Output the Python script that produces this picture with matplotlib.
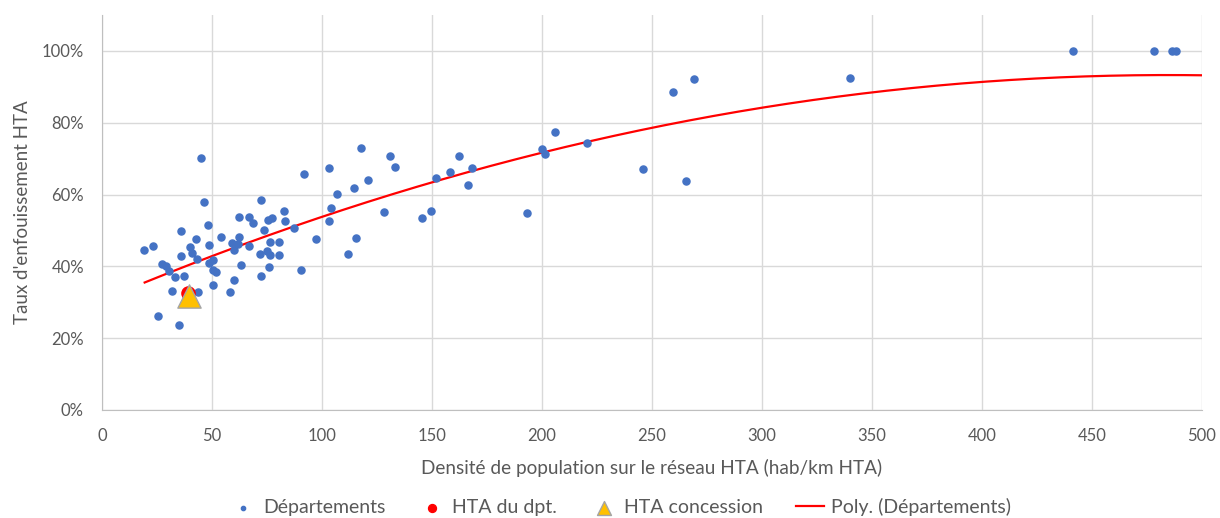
import numpy as np
import matplotlib
matplotlib.use("Agg")
import matplotlib.pyplot as plt
from matplotlib.ticker import PercentFormatter

# densite de population sur le reseau HTA (hab/km HTA) par departement
densite = [19.3, 23.0, 25.4, 27.4, 29.0, 30.5, 31.9, 33.1, 34.9, 35.7,
           36.1, 37.3, 39.8, 40.8, 42.8, 43.4, 43.7, 44.8, 46.4, 48.3,
           48.6, 48.6, 50.5, 50.6, 50.5, 52.0, 54.2, 58.4, 58.9, 60.2,
           60.1, 62.1, 62.1, 61.8, 63.4, 66.9, 66.9, 68.5, 72.3, 71.7,
           72.2, 73.7, 75.1, 75.4, 75.9, 76.6, 76.6, 77.5, 80.6, 80.6,
           82.6, 83.0, 87.3, 90.3, 92.0, 97.3, 103.4, 103.4, 104.0, 107.0,
           111.9, 114.8, 115.5, 117.8, 120.8, 128.0, 131.0, 133.0, 145.4, 149.7,
           152.0, 158.2, 162.3, 166.5, 168.2, 193.4, 200.1, 201.3, 206.0, 220.5,
           245.8, 259.8, 265.4, 269.2, 340.0, 441.6, 478.2, 486.7, 488.5]
# taux d'enfouissement HTA (%)
taux = [44.5, 45.6, 26.2, 40.7, 40.0, 38.6, 33.2, 37.0, 23.6, 49.8,
        43.0, 37.2, 45.3, 43.8, 47.5, 42.0, 32.8, 70.3, 57.8, 51.6,
        46.0, 40.8, 41.9, 34.7, 39.1, 38.5, 48.2, 32.8, 46.4, 44.6,
        36.1, 53.7, 48.2, 46.2, 40.5, 53.8, 45.6, 52.2, 58.6, 43.5,
        37.3, 50.1, 44.2, 52.8, 39.9, 46.7, 43.1, 53.4, 46.7, 43.1,
        55.3, 52.7, 50.7, 39.0, 65.6, 47.5, 67.4, 52.6, 56.3, 60.1,
        43.4, 61.8, 47.9, 72.9, 64.0, 55.2, 70.8, 67.8, 53.4, 55.3,
        64.5, 66.3, 70.7, 62.6, 67.4, 54.8, 72.6, 71.3, 77.4, 74.4,
        67.0, 88.7, 63.7, 92.1, 92.5, 100.0, 100.0, 100.0, 100.0]

# HTA du departement et HTA concession
dpt_x = [39.0]
dpt_y = [32.6]
conc_x = [39.5]
conc_y = [31.7]

# courbe de tendance "Poly. (Départements)"
trend_x = [19.4, 89.3, 225.9, 280.5, 300, 400, 452, 500]
trend_y = [35.6, 51.4, 75.4, 82.4, 84.1, 91.2, 93.1, 93.2]

x = np.array(densite)
y = np.array(taux) / 100

grey = "#595959"
plt.rcParams['font.family'] = ['Lato', 'DejaVu Sans']

fig = plt.figure(figsize=(12.2, 5.18), dpi=100)
ax = fig.add_axes([0.0836, 0.2085, 0.9014, 0.7625])

ax.scatter(x, y, s=26, color="#4472C4", zorder=3, label="Départements")
ax.scatter(np.array(dpt_x), np.array(dpt_y) / 100, s=90, color="#FF0000",
           zorder=4, label="HTA du dpt.")
ax.scatter(np.array(conc_x), np.array(conc_y) / 100, s=280, marker="^",
           color="#FFC000", edgecolors="#A5A5A5", linewidths=1, zorder=5,
           label="HTA concession")

# polynome d'ordre 2 passe par les lectures de la tendance
coef = np.polyfit(trend_x, np.array(trend_y) / 100, 2)
xs = np.linspace(min(trend_x), max(trend_x), 300)
ax.plot(xs, np.polyval(coef, xs), color="#FF0000", lw=1.6, zorder=2,
        label="Poly. (Départements)")

ax.set_xlim(0, 500)
ax.set_ylim(0, 1.1)
ax.set_xticks(np.arange(0, 501, 50))
ax.set_yticks(np.arange(0, 1.01, 0.2))
ax.yaxis.set_major_formatter(PercentFormatter(1.0, decimals=0))
ax.grid(True, color="#D9D9D9", lw=1)
ax.set_axisbelow(True)
for s in ["top", "right"]:
    ax.spines[s].set_visible(False)
for s in ["left", "bottom"]:
    ax.spines[s].set_color("#BFBFBF")
ax.tick_params(length=0, labelsize=12, colors=grey)
ax.tick_params(axis="y", pad=13)
ax.tick_params(axis="x", pad=13)

ax.set_xlabel("Densité de population sur le réseau HTA (hab/km HTA)",
              fontsize=13.7, color=grey, labelpad=11)
ax.set_ylabel("Taux d'enfouissement HTA", fontsize=13.5, color=grey, labelpad=8)

leg = fig.legend(loc="lower center", ncol=4, frameon=False, fontsize=14,
                 labelcolor=grey, bbox_to_anchor=(0.508, -0.03),
                 columnspacing=1.7, handlelength=1.4, handletextpad=0.35,
                 markerscale=0.6)

fig.savefig("out.png", dpi=100)
